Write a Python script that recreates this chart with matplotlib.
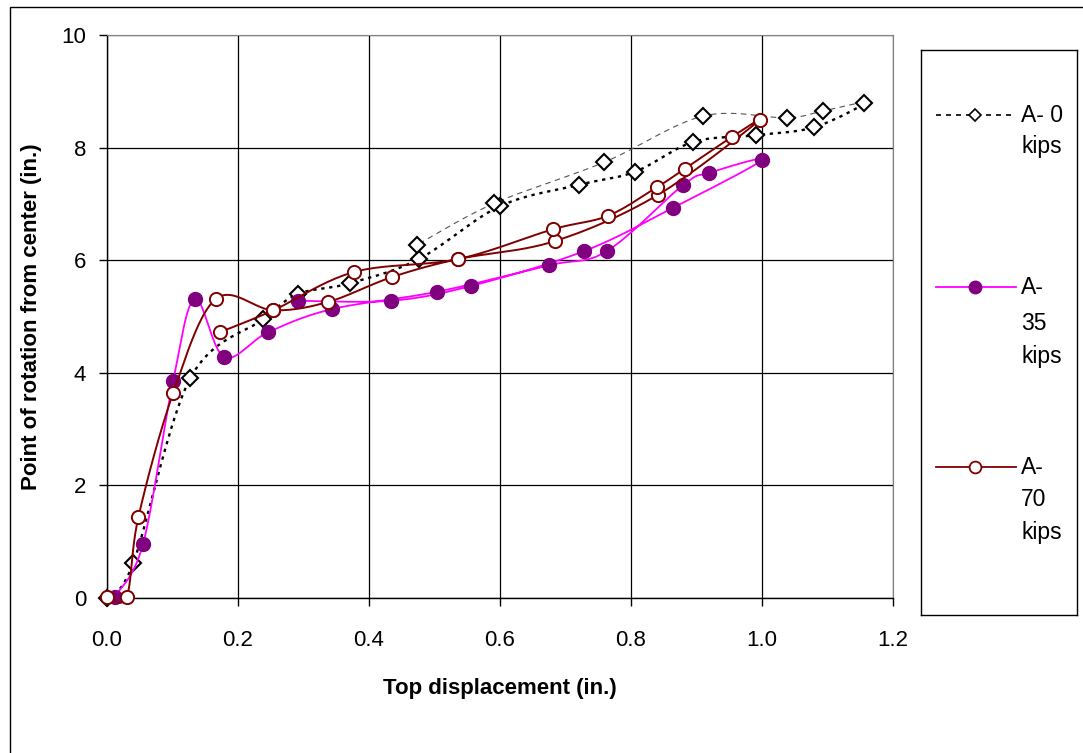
import numpy as np
import matplotlib.pyplot as plt
from matplotlib.patches import Rectangle

plt.rcParams['font.family'] = ['Liberation Sans', 'DejaVu Sans']

# A- 0 kips: loading out to peak, then unloading back
x0 = [0.000, 0.040, 0.127, 0.238, 0.292, 0.371, 0.476, 0.600, 0.721, 0.806,
      0.895, 0.991, 1.079, 1.156, 1.093, 1.038, 0.910, 0.759, 0.591, 0.473]
y0 = [0.00, 0.62, 3.90, 4.95, 5.40, 5.59, 6.02, 6.96, 7.34, 7.57,
      8.10, 8.22, 8.36, 8.79, 8.65, 8.53, 8.56, 7.74, 7.01, 6.27]
peak0 = 13

# A- 35 kips
x35 = [0.012, 0.055, 0.101, 0.134, 0.179, 0.246, 0.343, 0.504, 0.675, 0.763,
       0.880, 0.919, 1.000, 0.864, 0.728, 0.555, 0.434, 0.292]
y35 = [0.02, 0.96, 3.86, 5.31, 4.28, 4.72, 5.13, 5.44, 5.91, 6.16,
       7.34, 7.55, 7.78, 6.93, 6.16, 5.54, 5.28, 5.28]

# A- 70 kips
x70 = [0.000, 0.030, 0.048, 0.101, 0.166, 0.254, 0.338, 0.435, 0.536, 0.684,
       0.841, 0.997, 0.954, 0.882, 0.840, 0.765, 0.681, 0.536, 0.377, 0.254, 0.172]
y70 = [0.02, 0.02, 1.44, 3.64, 5.31, 5.11, 5.26, 5.70, 6.02, 6.34,
       7.16, 8.49, 8.19, 7.62, 7.30, 6.79, 6.55, 6.02, 5.79, 5.11, 4.72]

xticks = [0.0, 0.2, 0.4, 0.6, 0.8, 1.0, 1.2]
yticks = [0, 2, 4, 6, 8, 10]

MAGENTA = '#FF00FF'
PURPLE = '#800080'
DARKRED = '#800000'
N = 24


def smooth(xs, ys, n=N):
    # Bezier smoothing through every point (Catmull-Rom style tangents)
    p = np.column_stack([xs, ys]).astype(float)
    p = np.vstack([p[0], p, p[-1]])
    t = np.linspace(0, 1, n, endpoint=False)[:, None]
    parts = []
    for i in range(1, len(p) - 2):
        a, b, c, d = p[i - 1], p[i], p[i + 1], p[i + 2]
        c1 = b + (c - a) / 6
        c2 = c - (d - b) / 6
        parts.append((1 - t) ** 3 * b + 3 * (1 - t) ** 2 * t * c1
                     + 3 * (1 - t) * t ** 2 * c2 + t ** 3 * c)
    parts.append(p[-2][None])
    return np.vstack(parts)


fig = plt.figure(figsize=(10.83, 7.53), dpi=100)

# outer chart frame
fig.add_artist(Rectangle((10 / 1083, -0.05), 1.2, 1 - 7 / 753 + 0.05,
                         transform=fig.transFigure, fill=False,
                         edgecolor='black', lw=1))

ax = fig.add_axes([107 / 1083, 155 / 753, 786 / 1083, 563 / 753])

# A- 0 kips
c0 = smooth(x0, y0)
ax.plot(c0[:peak0 * N + 1, 0], c0[:peak0 * N + 1, 1], color='black', lw=1.7,
        dashes=(1.4, 2.0), zorder=3, clip_on=False)
ax.plot(c0[peak0 * N:, 0], c0[peak0 * N:, 1], color='#555555', lw=0.8,
        dashes=(5, 4), zorder=3)
ax.plot(x0, y0, ls='none', marker='D', ms=7.8, mfc='white', mec='black',
        mew=1.5, zorder=4, clip_on=False)

# A- 35 kips
c35 = smooth(x35, y35)
ax.plot(c35[:, 0], c35[:, 1], color=MAGENTA, lw=1.3, zorder=5, clip_on=False)
ax.plot(x35, y35, ls='none', marker='o', ms=10, mfc=PURPLE, mec=PURPLE,
        zorder=6, clip_on=False)

# A- 70 kips
c70 = smooth(x70, y70)
ax.plot(c70[:, 0], c70[:, 1], color=DARKRED, lw=1.4, zorder=7, clip_on=False)
ax.plot(x70, y70, ls='none', marker='o', ms=9.5, mfc='white', mec=DARKRED,
        mew=1.4, zorder=8, clip_on=False)

ax.set_xlim(0, 1.2)
ax.set_ylim(0, 10)
ax.set_xticks(xticks)
ax.set_xticklabels([f'{v:.1f}' for v in xticks])
ax.set_yticks(yticks)
ax.set_yticklabels([str(v) for v in yticks])
ax.grid(True, color='black', lw=0.9)
ax.set_axisbelow(True)
for s in ['top', 'right']:
    ax.spines[s].set_color('#808080')
for s in ['left', 'bottom']:
    ax.spines[s].set_color('black')
    ax.spines[s].set_linewidth(1.0)
ax.tick_params(axis='both', direction='out', length=6, width=1,
               labelsize=16)
ax.tick_params(axis='x', pad=17)
ax.tick_params(axis='y', pad=9)

ax.set_xlabel('Top displacement (in.)', fontsize=16, fontweight='bold',
              va='center')
ax.xaxis.set_label_coords(0.5, -0.16)
ax.set_ylabel('Point of rotation from center (in.)', fontsize=16,
              fontweight='bold', va='center')
ax.yaxis.set_label_coords(-0.096, 0.5)

# legend panel, drawn in pixel units
lax = fig.add_axes([921 / 1083, (753 - 615) / 753, 156 / 1083, 565 / 753])
lax.set_xlim(921, 1077)
lax.set_ylim(615, 50)
lax.set_xticks([])
lax.set_yticks([])
for s in lax.spines.values():
    s.set_color('black')
    s.set_linewidth(1.0)

lax.plot([936, 1016], [115, 115], color='black', lw=1.2, dashes=(3, 3))
lax.plot([975], [115], marker='D', ms=6.5, mfc='white', mec='black', mew=1.2)
lax.plot([936, 1016], [287, 287], color=MAGENTA, lw=1.3)
lax.plot([975], [287], marker='o', ms=9, mfc=PURPLE, mec=PURPLE)
lax.plot([936, 1016], [467, 467], color=DARKRED, lw=1.3)
lax.plot([975], [467], marker='o', ms=8.5, mfc='white', mec=DARKRED, mew=1.3)

legend_text = [
    (115, 'A- 0'), (147, 'kips'),
    (287, 'A-'), (323, '35'), (357, 'kips'),
    (467, 'A-'), (500, '70'), (533, 'kips'),
]
for yy, txt in legend_text:
    lax.text(1021, yy, txt, fontsize=16.5, va='center', ha='left')

fig.savefig('out.png', dpi=100)
